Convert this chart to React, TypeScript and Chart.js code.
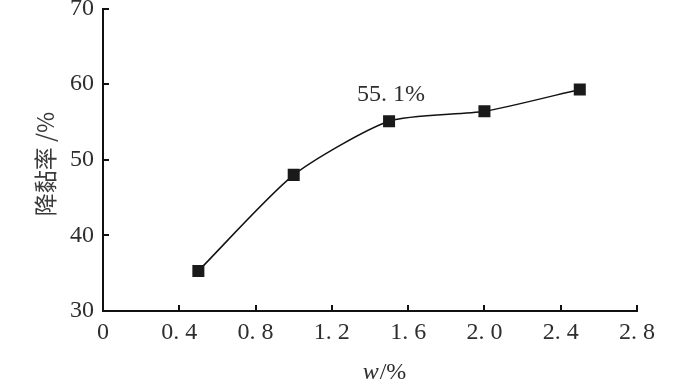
import React, { useEffect, useRef } from "react";
import { Chart, registerables } from "chart.js";

Chart.register(...registerables);

const dosage = [0.5, 1.0, 1.5, 2.0, 2.5];
const reduction = [35.3, 48.0, 55.1, 56.4, 59.3];
const annotationIndex = 2;
const annotationText = "55. 1%";
const yTitle = "降黏率 /%";
const xTitleItalic = "w";
const xTitleRest = "/%";

const fmtX = (v: number) => (v === 0 ? "0" : v.toFixed(1).replace(".", ". "));

export default function App() {
  const ref = useRef<HTMLCanvasElement | null>(null);
  useEffect(() => {
    document.body.style.margin = "0";
    const canvas = ref.current;
    if (!canvas) return;
    const serif = "'Liberation Serif', 'Times New Roman', serif";
    const textColor = "#2e2e2e";
    const overlay = {
      id: "overlay",
      afterDraw(chart: any) {
        const ctx = chart.ctx;
        const xs = chart.scales.x;
        const ys = chart.scales.y;
        const area = chart.chartArea;
        ctx.save();
        ctx.strokeStyle = "#111";
        ctx.lineWidth = 2;
        xs.ticks.forEach((t: any) => {
          if (t.value === 0) return;
          const px = Math.round(xs.getPixelForValue(t.value));
          ctx.beginPath();
          ctx.moveTo(px, area.bottom);
          ctx.lineTo(px, area.bottom - 6);
          ctx.stroke();
        });
        ys.ticks.forEach((t: any) => {
          if (t.value === 30) return;
          const py = Math.round(ys.getPixelForValue(t.value));
          ctx.beginPath();
          ctx.moveTo(area.left, py);
          ctx.lineTo(area.left + 6, py);
          ctx.stroke();
        });
        // annotation
        const ax = xs.getPixelForValue(dosage[annotationIndex]);
        const ay = ys.getPixelForValue(reduction[annotationIndex]);
        ctx.fillStyle = textColor;
        ctx.font = `24px ${serif}`;
        ctx.textAlign = "center";
        ctx.textBaseline = "middle";
        ctx.fillText(annotationText, ax + 2, ay - 26);
        // y title
        ctx.save();
        ctx.translate(45, 164);
        ctx.rotate(-Math.PI / 2);
        ctx.font = `23px 'Noto Sans CJK SC', sans-serif`;
        ctx.fillStyle = "#3a3a3a";
        ctx.textAlign = "center";
        ctx.textBaseline = "middle";
        ctx.fillText(yTitle, 0, 0);
        ctx.restore();
        // x title
        ctx.font = `italic 24px ${serif}`;
        const w1 = ctx.measureText(xTitleItalic).width;
        ctx.font = `24px ${serif}`;
        const w2 = ctx.measureText(xTitleRest).width;
        const cx = (area.left + area.right) / 2 + 14;
        const startX = cx - (w1 + w2) / 2;
        const ty = 373;
        ctx.textAlign = "left";
        ctx.textBaseline = "middle";
        ctx.font = `italic 24px ${serif}`;
        ctx.fillText(xTitleItalic, startX, ty);
        ctx.font = `24px ${serif}`;
        ctx.fillText(xTitleRest, startX + w1 + 1, ty);
        ctx.restore();
      },
    };
    const chart = new Chart(canvas, {
      type: "line",
      data: {
        datasets: [
          {
            data: dosage.map((x, i) => ({ x, y: reduction[i] })),
            borderColor: "#111",
            borderWidth: 1.5,
            backgroundColor: "#1a1a1a",
            pointStyle: "rect",
            pointRadius: 8.5,
            pointBorderWidth: 0,
            pointBackgroundColor: "#1a1a1a",
            tension: 0.22,
            fill: false,
          },
        ],
      },
      options: {
        animation: false,
        responsive: false,
        maintainAspectRatio: false,
        layout: { padding: { top: 7, right: 63, left: 0, bottom: 0 } },
        plugins: { legend: { display: false }, tooltip: { enabled: false } },
        scales: {
          x: {
            type: "linear",
            min: 0,
            max: 2.8,
            afterFit: (s: any) => {
              s.height = 76;
              s.paddingRight = 0;
            },
            grid: { display: false, drawTicks: false },
            border: { display: true, color: "#111", width: 2 },
            ticks: {
              stepSize: 0.4,
              padding: 7,
              color: textColor,
              font: { family: serif, size: 24 },
              callback: (v: any) => fmtX(Number(v)),
              maxRotation: 0,
              autoSkip: false,
            },
          },
          y: {
            min: 30,
            max: 70,
            afterFit: (s: any) => {
              s.width = 103;
              s.paddingTop = 0;
              s.paddingBottom = 0;
            },
            grid: { display: false, drawTicks: false },
            border: { display: true, color: "#111", width: 2 },
            ticks: {
              stepSize: 10,
              padding: 9,
              color: textColor,
              font: { family: serif, size: 24 },
            },
          },
        },
      },
      plugins: [overlay],
    });
    return () => chart.destroy();
  }, []);
  return (
    <div style={{ width: 700, height: 387, background: "#fff" }}>
      <canvas ref={ref} width={700} height={387} style={{ display: "block" }} />
    </div>
  );
}
